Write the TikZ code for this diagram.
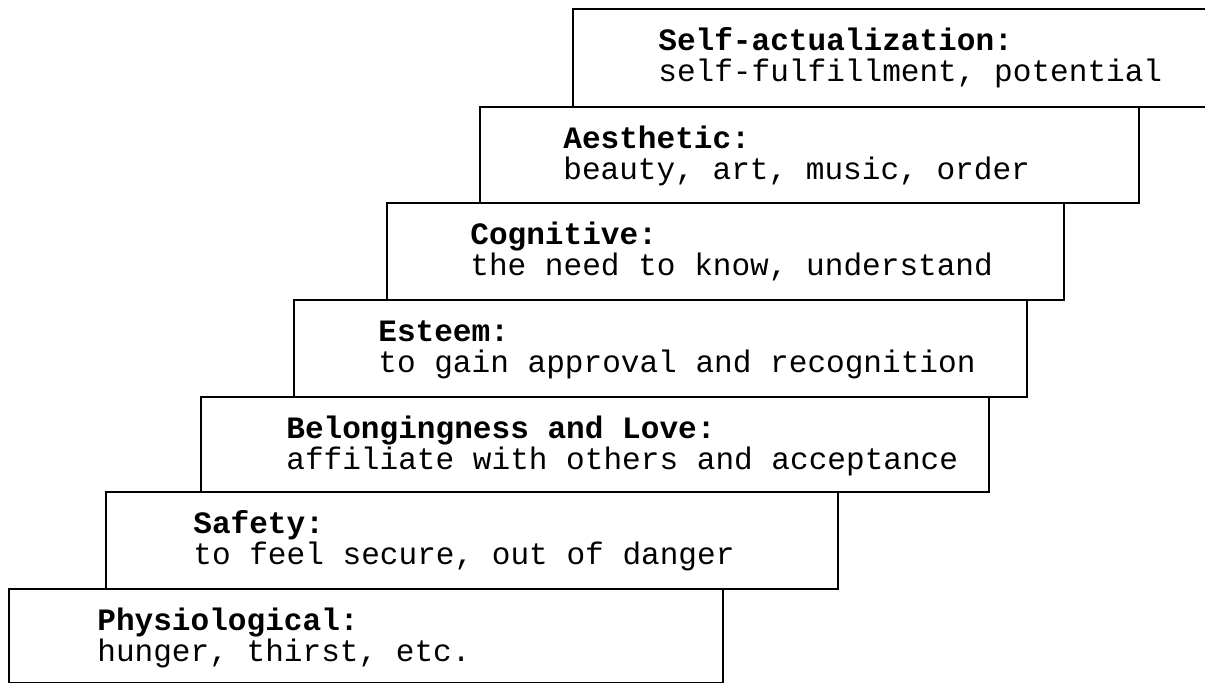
\documentclass[tikz,border=0pt]{standalone}
\usepackage{fontspec}
\setmonofont{Liberation Mono}
\usepackage{tikz}
\usetikzlibrary{calc}

\newdimen\px
\px=0.02cm
\newcommand\needfont{\ttfamily\fontsize{17.7}{18.2}\selectfont}
% title in bold, then the need itself; full-width spaces as on a typewriter
\newcommand\needtext[2]{\spaceskip=0.6em\relax\textbf{#1}\\#2}

\tikzset{
  stair/.style = {draw, line width=1.1pt, anchor=north west, inner sep=0pt},
  need/.style = {anchor=base west, inner sep=0pt, align=left, text width=720\px, font=\needfont}
}

\begin{document}
\begin{tikzpicture}[x=\px,y=-\px]
  \clip (0,0) rectangle (1205,683);

  % the steps, from the bottom up
  \node[stair, minimum width=714\px, minimum height=94\px] (phys) at (8,588) {};
  \node[stair, minimum width=732\px, minimum height=97\px] (safety) at (105,491) {};
  \node[stair, minimum width=788\px, minimum height=95\px] (belong) at (200,396) {};
  \node[stair, minimum width=733\px, minimum height=97\px] (esteem) at (293,299) {};
  \node[stair, minimum width=677\px, minimum height=97\px] (cogn) at (386,202) {};
  \node[stair, minimum width=659\px, minimum height=96\px] (aesth) at (479,106) {};
  % the top one runs off the page
  \node[stair, minimum width=660\px, minimum height=98\px] (selfact) at (572,8) {};

  % what each step needs
  \node[need] (phys-txt) at ($(phys.north west)+(89,42)$)
    {\needtext{Physiological:}{hunger, thirst, etc.}};
  \node[need] (safety-txt) at ($(safety.north west)+(88,42)$)
    {\needtext{Safety:}{to feel secure, out of danger}};
  \node[need] (belong-txt) at ($(belong.north west)+(86,42)$)
    {\needtext{Belongingness and Love:}{affiliate with others and acceptance}};
  \node[need] (esteem-txt) at ($(esteem.north west)+(85,42)$)
    {\needtext{Esteem:}{to gain approval and recognition}};
  \node[need] (cogn-txt) at ($(cogn.north west)+(84,42)$)
    {\needtext{Cognitive:}{the need to know, understand}};
  \node[need] (aesth-txt) at ($(aesth.north west)+(84,42)$)
    {\needtext{Aesthetic:}{beauty, art, music, order}};
  \node[need] (selfact-txt) at ($(selfact.north west)+(86,42)$)
    {\needtext{Self-actualization:}{self-fulfillment, potential}};
\end{tikzpicture}
\end{document}
